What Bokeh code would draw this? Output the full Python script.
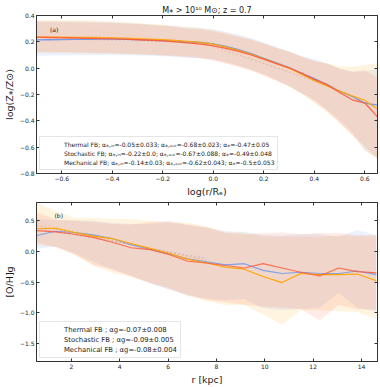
import numpy as np
from bokeh.plotting import figure
from bokeh.layouts import column
from bokeh.models import (FixedTicker, LinearAxis, Legend, LegendItem, Label,
                          Range1d, CustomJSTickFormatter)
from bokeh.embed import file_html
from bokeh.resources import INLINE

# ---------------- data: panel (a) ----------------
ra_x = [-0.70, -0.65, -0.60, -0.55, -0.50, -0.45, -0.40, -0.35, -0.30, -0.25,
        -0.20, -0.15, -0.10, -0.05, 0.00, 0.05, 0.10, 0.15, 0.20, 0.25,
        0.30, 0.35, 0.40, 0.45, 0.50, 0.55, 0.60, 0.65]
a_thermal = [0.215, 0.216, 0.217, 0.218, 0.219, 0.220, 0.220, 0.219, 0.217, 0.214,
             0.210, 0.205, 0.200, 0.195, 0.185, 0.165, 0.140, 0.110, 0.075, 0.040,
             0.005, -0.040, -0.080, -0.125, -0.175, -0.215, -0.265, -0.280]
a_stoch = [0.235, 0.235, 0.235, 0.234, 0.233, 0.232, 0.230, 0.228, 0.225, 0.221,
           0.216, 0.210, 0.203, 0.195, 0.182, 0.160, 0.135, 0.105, 0.070, 0.035,
           0.000, -0.045, -0.095, -0.135, -0.175, -0.210, -0.245, -0.310]
a_mech = [0.235, 0.233, 0.231, 0.229, 0.227, 0.225, 0.223, 0.220, 0.216, 0.212,
          0.207, 0.200, 0.192, 0.183, 0.170, 0.150, 0.128, 0.100, 0.068, 0.035,
          0.003, -0.040, -0.085, -0.125, -0.185, -0.240, -0.265, -0.370]
a_thermal_up = [0.14, 0.14, 0.14, 0.14, 0.135, 0.13, 0.13, 0.125, 0.12, 0.12,
                0.115, 0.115, 0.11, 0.11, 0.11, 0.11, 0.115, 0.12, 0.12, 0.12,
                0.12, 0.13, 0.15, 0.16, 0.17, 0.19, 0.24, 0.28]
a_thermal_dn = [0.12, 0.12, 0.12, 0.12, 0.12, 0.12, 0.12, 0.12, 0.12, 0.12,
                0.12, 0.12, 0.12, 0.12, 0.12, 0.12, 0.12, 0.12, 0.12, 0.13,
                0.14, 0.15, 0.16, 0.19, 0.22, 0.27, 0.36, 0.40]
a_stoch_up = [0.13, 0.13, 0.13, 0.13, 0.13, 0.13, 0.125, 0.12, 0.12, 0.115,
              0.115, 0.11, 0.11, 0.11, 0.11, 0.11, 0.11, 0.115, 0.12, 0.12,
              0.125, 0.13, 0.15, 0.17, 0.19, 0.22, 0.27, 0.35]
a_stoch_dn = [0.12, 0.12, 0.12, 0.12, 0.12, 0.12, 0.12, 0.12, 0.12, 0.12,
              0.12, 0.115, 0.115, 0.115, 0.115, 0.12, 0.12, 0.12, 0.125, 0.13,
              0.14, 0.15, 0.17, 0.20, 0.24, 0.30, 0.38, 0.38]
a_mech_up = [0.12, 0.12, 0.12, 0.12, 0.12, 0.12, 0.12, 0.12, 0.12, 0.115,
             0.115, 0.11, 0.11, 0.11, 0.11, 0.11, 0.11, 0.115, 0.12, 0.12,
             0.125, 0.13, 0.14, 0.16, 0.18, 0.21, 0.25, 0.30]
a_mech_dn = [0.11, 0.11, 0.11, 0.11, 0.11, 0.11, 0.11, 0.11, 0.11, 0.11,
             0.11, 0.11, 0.11, 0.11, 0.115, 0.115, 0.12, 0.12, 0.125, 0.13,
             0.14, 0.15, 0.17, 0.20, 0.23, 0.27, 0.33, 0.32]
# fitted inner / outer gradients (intercept, slope)
a_fit_in = [(0.19, -0.05), (0.18, -0.22), (0.175, -0.14)]
a_fit_out = [(0.17, -0.68), (0.17, -0.67), (0.16, -0.62)]
a_fit_in_range = [-0.5, 0.0]
a_fit_out_range = [0.0, 0.5]

# ---------------- data: panel (b) ----------------
rb_x = [0.57, 1.35, 2.13, 2.91, 3.69, 4.47, 5.25, 6.03, 6.81, 7.59,
        8.37, 9.15, 9.93, 10.71, 11.49, 12.27, 13.05, 13.83, 14.61]
b_thermal = [0.26, 0.33, 0.31, 0.27, 0.21, 0.11, 0.03, -0.04, -0.12, -0.17,
             -0.22, -0.20, -0.31, -0.36, -0.34, -0.36, -0.36, -0.32, -0.38]
b_stoch = [0.37, 0.38, 0.31, 0.25, 0.21, 0.13, 0.05, -0.03, -0.13, -0.19,
           -0.26, -0.29, -0.41, -0.51, -0.36, -0.38, -0.38, -0.37, -0.48]
b_mech = [0.34, 0.32, 0.28, 0.23, 0.15, 0.06, 0.03, -0.05, -0.16, -0.19,
          -0.23, -0.27, -0.20, -0.27, -0.34, -0.40, -0.27, -0.33, -0.35]
b_thermal_up = [0.28, 0.18, 0.20, 0.23, 0.26, 0.34, 0.42, 0.52, 0.55, 0.56,
                0.55, 0.52, 0.58, 0.62, 0.62, 0.64, 0.60, 0.67, 0.65]
b_thermal_dn = [0.22, 0.25, 0.34, 0.44, 0.50, 0.50, 0.55, 0.58, 0.60, 0.60,
                0.58, 0.58, 0.62, 0.60, 0.60, 0.56, 0.32, 0.60, 0.60]
b_stoch_up = [0.42, 0.28, 0.24, 0.30, 0.32, 0.40, 0.45, 0.50, 0.60, 0.60,
              0.58, 0.60, 0.66, 0.75, 0.60, 0.62, 0.64, 0.62, 0.72]
b_stoch_dn = [0.28, 0.30, 0.36, 0.48, 0.56, 0.55, 0.56, 0.56, 0.60, 0.62,
              0.62, 0.58, 0.62, 0.69, 0.60, 0.58, 0.60, 0.62, 0.62]
b_mech_up = [0.30, 0.20, 0.22, 0.25, 0.30, 0.38, 0.45, 0.55, 0.60, 0.58,
             0.53, 0.55, 0.50, 0.58, 0.62, 0.70, 0.57, 0.60, 0.62]
b_mech_dn = [0.20, 0.25, 0.33, 0.45, 0.45, 0.47, 0.55, 0.57, 0.55, 0.60,
             0.60, 0.60, 0.70, 0.65, 0.60, 0.73, 0.60, 0.62, 0.60]
b_fit = [(0.42, -0.07), (0.52, -0.09), (0.47, -0.08)]
b_fit_range = [0.57, 7.59]

labels_a = [
    "Thermal FB; α⁎,ᵢₙ=-0.05±0.033; α⁎,ₒᵤₜ=-0.68±0.023; α⁎=-0.47±0.05",
    "Stochastic FB; α⁎,ᵢₙ=-0.22±0.0; α⁎,ₒᵤₜ=-0.67±0.088; α⁎=-0.49±0.048",
    "Mechanical FB; α⁎,ᵢₙ=-0.14±0.03; α⁎,ₒᵤₜ=-0.62±0.043; α⁎=-0.5±0.053",
]
labels_b = [
    "Thermal FB ; αg=-0.07±0.008",
    "Stochastic FB ; αg=-0.09±0.005",
    "Mechanical FB ; αg=-0.08±0.004",
]
a_xticks = [-0.6, -0.4, -0.2, 0.0, 0.2, 0.4, 0.6]
a_yticks = [-0.8, -0.6, -0.4, -0.2, 0.0, 0.2, 0.4]
b_xticks = [2, 4, 6, 8, 10, 12, 14]
b_yticks = [-1.5, -1.0, -0.5, 0.0, 0.5]

COLORS = ["#6495ED", "#FFA500", "#FF5A36"]
FONT = "DejaVu Sans"
TXT = "#1a1a1a"
W = 380


def fmt(dec):
    return CustomJSTickFormatter(
        code="return (tick < 0 ? '\\u2212' : '') + Math.abs(tick).toFixed(%d);" % dec)


def blank_fmt():
    return CustomJSTickFormatter(code="return '';")


def style(p, xticks, yticks, xdec, ydec):
    top = LinearAxis()
    right = LinearAxis()
    p.add_layout(top, "above")
    p.add_layout(right, "right")
    bottom = p.below[0]
    left = p.left[0]
    bottom.ticker = FixedTicker(ticks=xticks)
    top.ticker = FixedTicker(ticks=xticks)
    left.ticker = FixedTicker(ticks=yticks)
    right.ticker = FixedTicker(ticks=yticks)
    bottom.formatter = fmt(xdec)
    left.formatter = fmt(ydec)
    top.formatter = blank_fmt()
    right.formatter = blank_fmt()
    for ax in (top, right, bottom, left):
        ax.major_tick_in = 3
        ax.major_tick_out = 0
        ax.minor_tick_line_color = None
        ax.axis_line_color = "#333333"
        ax.major_tick_line_color = "#333333"
        ax.major_label_text_font = FONT
        ax.major_label_text_color = TXT
        ax.axis_label_text_font = FONT
        ax.axis_label_text_color = TXT
        ax.axis_label_text_font_style = "normal"
        ax.axis_label_text_font_size = "9.5px"
        ax.axis_label_standoff = 2
    for ax in (top, right):
        ax.major_label_standoff = 0
        ax.major_label_text_font_size = "1px"
    for ax in (bottom, left):
        ax.major_label_text_font_size = "6px"
        ax.major_label_standoff = 2
    p.grid.visible = False
    p.outline_line_color = "#333333"


def make_fig(height, top_border, bottom_border, title=None):
    p = figure(width=W, height=height, output_backend="svg", toolbar_location=None,
               min_border_left=33, min_border_right=3, min_border_top=top_border,
               min_border_bottom=bottom_border)
    if title:
        p.title.text = title
        p.title.align = "center"
        p.title.text_font = FONT
        p.title.text_font_size = "8px"
        p.title.text_font_style = "normal"
        p.title.text_color = TXT
        p.title.standoff = 2
    return p


# ---------------- panel (a) ----------------
pa = make_fig(199, 15, 23, "M⁎ > 10¹⁰ M⊙; z = 0.7")
pa.x_range = Range1d(-0.7, 0.65)
pa.y_range = Range1d(-0.8, 0.4)
pa.below[0].axis_label = "log(r/Rₑ)"
pa.left[0].axis_label = "log(Z⁎/Z⊙)"

series_a = [(a_thermal, a_thermal_up, a_thermal_dn),
            (a_stoch, a_stoch_up, a_stoch_dn),
            (a_mech, a_mech_up, a_mech_dn)]
xa = np.array(ra_x)
for (y, up, dn), c in zip(series_a, COLORS):
    y = np.array(y)
    pa.varea(x=xa, y1=y - np.array(dn), y2=y + np.array(up), fill_color=c, fill_alpha=0.12)
for y, c in zip([a_thermal, a_stoch, a_mech], COLORS):
    pa.line(xa, y, line_color=c, line_width=1.3, line_alpha=0.9)
for (b0, s), c in zip(a_fit_in, COLORS):
    xs = np.array(a_fit_in_range)
    pa.line(xs, b0 + s * xs, line_color=c, line_dash="2 2", line_width=1.0, line_alpha=0.15)
for (b0, s), c in zip(a_fit_out, COLORS):
    xs = np.array(a_fit_out_range)
    pa.line(xs, b0 + s * xs, line_color=c, line_dash="2 2", line_width=1.0, line_alpha=0.15)

items_a = []
for lab, c in zip(labels_a, COLORS):
    r = pa.line([], [], line_color=c, line_width=2, line_alpha=0.55)
    items_a.append(LegendItem(label=lab, renderers=[r]))

pa.add_layout(Label(x=-0.63, y=0.296, text="(a)", text_font=FONT, text_font_size="6px",
                    text_color=TXT, text_align="center", text_baseline="middle"))

# ---------------- panel (b) ----------------
pb = make_fig(188, 3, 24)
pb.x_range = Range1d(0.56, 14.66)
pb.y_range = Range1d(-1.8, 0.8)
pb.below[0].axis_label = "r [kpc]"
pb.left[0].axis_label = "[O/H]g"

series_b = [(b_thermal, b_thermal_up, b_thermal_dn),
            (b_stoch, b_stoch_up, b_stoch_dn),
            (b_mech, b_mech_up, b_mech_dn)]
xb = np.array(rb_x)
for (y, up, dn), c in zip(series_b, COLORS):
    y = np.array(y)
    pb.varea(x=xb, y1=y - np.array(dn), y2=y + np.array(up), fill_color=c, fill_alpha=0.12)
for (b0, s), c in zip(b_fit, COLORS):
    xs = np.array(b_fit_range)
    pb.line(xs, b0 + s * xs, line_color=c, line_dash="2 2", line_width=1.0, line_alpha=0.3)
b_alpha = [0.8, 1.0, 0.85]
for y, c, al in zip([b_thermal, b_stoch, b_mech], COLORS, b_alpha):
    pb.line(xb, y, line_color=c, line_width=1.1, line_alpha=al)

items_b = []
for lab, c, lw, al in zip(labels_b, COLORS, [2, 1.1, 2], [0.55, 1.0, 0.55]):
    r = pb.line([], [], line_color=c, line_width=lw, line_alpha=al)
    items_b.append(LegendItem(label=lab, renderers=[r]))

pb.add_layout(Label(x=1.48, y=0.59, text="(b)", text_font=FONT, text_font_size="6px",
                    text_color=TXT, text_align="center", text_baseline="middle"))

for p, items, fs, lh in ((pa, items_a, "6px", 8), (pb, items_b, "6.8px", 9)):
    lg = Legend(items=items, location="bottom_left")
    lg.label_text_font = FONT
    lg.label_text_font_size = fs
    lg.label_text_color = TXT
    lg.glyph_width = 18
    lg.glyph_height = 7
    lg.label_height = lh
    lg.label_standoff = 3
    lg.spacing = 1
    lg.padding = 3
    lg.margin = 3
    lg.border_line_color = "#cccccc"
    lg.background_fill_alpha = 0.85
    p.add_layout(lg)

style(pa, a_xticks, a_yticks, 1, 1)
style(pb, b_xticks, b_yticks, 0, 1)

layout = column(pa, pb, spacing=0)
open("out.html", "w").write(file_html(layout, INLINE))
